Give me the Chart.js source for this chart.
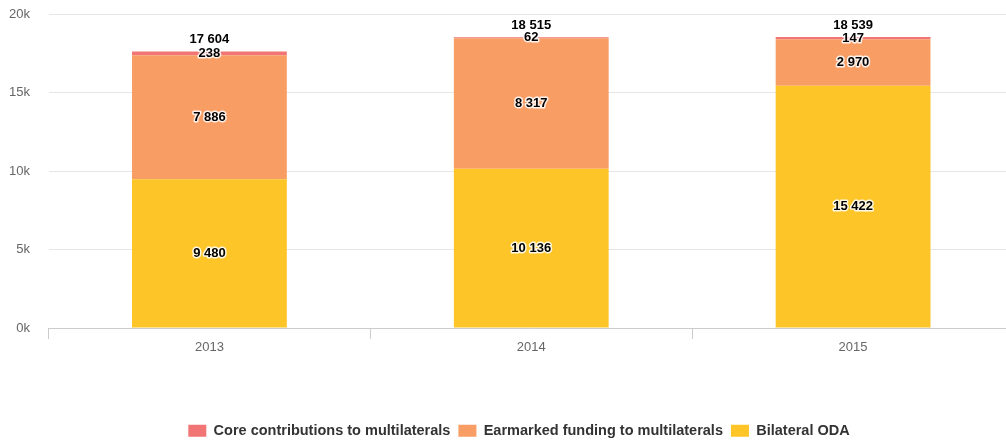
<!DOCTYPE html>
<html>
<head>
<meta charset="utf-8">
<script src="https://cdn.jsdelivr.net/npm/chart.js@4/dist/chart.umd.min.js"></script>
<style>
  html, body { margin: 0; padding: 0; background: #fff; overflow: hidden; }
</style>
</head>
<body>
<canvas id="odaChart" width="1014" height="448"></canvas>
<script>
// years on the x axis
const years = ['2013', '2014', '2015'];

// series values, bottom of the stack first
const bilateralODA = [9480, 10136, 15422];
const earmarkedFunding = [7886, 8317, 2970];
const coreContributions = [238, 62, 147];

// y axis ticks
const yTicks = [0, 5000, 10000, 15000, 20000];

const fmt = n => String(n).replace(/\B(?=(\d{3})+(?!\d))/g, ' ');

// draws value labels inside each segment and the stack total above
const valueLabels = {
    id: 'valueLabels',
    afterLayout(chart) {
        // legend sits a bit right of the canvas centre in the original
        chart.legend.left += 24;
    },
    afterDatasetsDraw(chart) {
        const ctx = chart.ctx;
        ctx.save();
        ctx.font = 'bold 13px "Liberation Sans", Arial, sans-serif';
        ctx.textAlign = 'center';
        ctx.textBaseline = 'middle';
        ctx.lineJoin = 'round';

        chart.data.datasets.forEach((ds, i) => {
            const meta = chart.getDatasetMeta(i);
            meta.data.forEach((bar, j) => {
                const y = (bar.y + bar.base) / 2;
                const txt = fmt(ds.data[j]);
                ctx.strokeStyle = 'rgba(255,255,255,0.85)';
                ctx.lineWidth = 3;
                ctx.strokeText(txt, bar.x, y);
                ctx.fillStyle = '#000';
                ctx.fillText(txt, bar.x, y);
            });
        });

        // totals
        const last = chart.getDatasetMeta(chart.data.datasets.length - 1);
        last.data.forEach((bar, j) => {
            const total = chart.data.datasets.reduce((s, ds) => s + ds.data[j], 0);
            ctx.fillStyle = '#000';
            ctx.fillText(fmt(total), bar.x, bar.y - 12);
        });
        ctx.restore();
    }
};

Chart.defaults.font.family = '"Liberation Sans", Arial, sans-serif';

new Chart(document.getElementById('odaChart'), {
    type: 'bar',
    data: {
        labels: years,
        datasets: [
            { label: 'Bilateral ODA', data: bilateralODA, backgroundColor: '#fdc527' },
            { label: 'Earmarked funding to multilaterals', data: earmarkedFunding, backgroundColor: '#f89d63' },
            { label: 'Core contributions to multilaterals', data: coreContributions, backgroundColor: '#f27575' }
        ]
    },
    options: {
        responsive: false,
        animation: false,
        layout: { padding: { left: 0, top: 14, right: 0, bottom: 0 } },
        datasets: {
            bar: { categoryPercentage: 1, barPercentage: 0.481, borderWidth: 0 }
        },
        plugins: {
            legend: {
                position: 'bottom',
                reverse: true,
                labels: {
                    boxWidth: 18,
                    boxHeight: 12,
                    padding: 8,
                    color: '#333',
                    font: { size: 14.5, weight: 'bold' }
                }
            },
            tooltip: { enabled: false }
        },
        scales: {
            x: {
                stacked: true,
                afterFit: axis => { axis.height = 87.5; },
                grid: {
                    offset: true,
                    drawOnChartArea: false,
                    drawTicks: true,
                    tickLength: 11,
                    color: '#ccc'
                },
                border: { color: '#ccc' },
                ticks: { color: '#666', font: { size: 13 }, padding: 1 }
            },
            y: {
                stacked: true,
                min: 0,
                max: 20000,
                afterFit: axis => { axis.width = 48.5; },
                afterBuildTicks: axis => { axis.ticks = yTicks.map(v => ({ value: v })); },
                grid: {
                    color: '#e6e6e6',
                    drawTicks: true,
                    tickLength: 18.5,
                    tickColor: 'rgba(0,0,0,0)'
                },
                border: { display: false },
                ticks: {
                    color: '#666',
                    font: { size: 13 },
                    padding: 0,
                    callback: v => (v / 1000) + 'k'
                }
            }
        }
    },
    plugins: [valueLabels]
});
</script>
</body>
</html>
